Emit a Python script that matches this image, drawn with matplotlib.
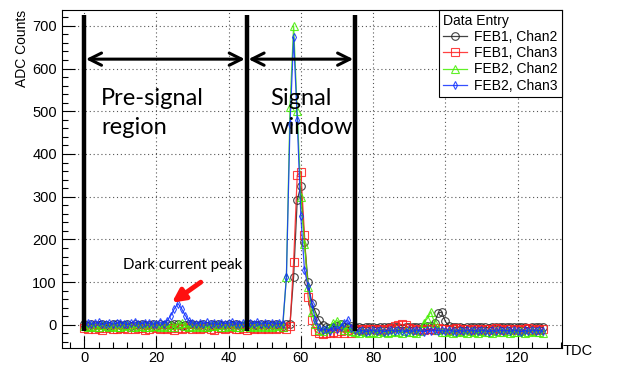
import numpy as np
import matplotlib
matplotlib.use("Agg")
import matplotlib.pyplot as plt
from matplotlib.ticker import MultipleLocator

plt.rcParams['font.family'] = ['Liberation Sans', 'DejaVu Sans']

tdc = np.arange(128)

feb1_chan2 = [1, -2, 2, 0, -1, 3, 0, -2, 1, 2,
              -1, 0, 2, -2, 1, 0, 3, -1, 0, 1,
              -2, 1, 0, 2, -1, 3, 1, -2, 0, 1,
              2, -1, 0, 1, -2, 2, 0, 1, -1, 0,
              3, -1, 1, 0, -2, 1, 2, 0, -1, 1,
              0, 2, -1, 1, 0, -2, 1, 3, 113, 293,
              324, 195, 100, 52, 31, 12, 0, -6, -8, -5,
              -2, 1, -4, -6, -3, -5, -6, -7, -5, -6,
              -4, -7, -6, -5, -6, -4, -6, -5, -7, -6,
              -5, -6, -4, -6, -5, -2, -3, 5, 28, 30,
              8, -3, -5, -6, -5, -7, -6, -4, -6, -5,
              -6, -5, -7, -6, -4, -5, -6, -5, -6, -4,
              -5, -6, -5, -7, -4, -6, -5, -6]

feb1_chan3 = [-8, -10, -6, -9, -7, -11, -8, -6, -9, -10,
              -7, -8, -10, -6, -9, -8, -7, -11, -9, -6,
              -8, -10, -7, -9, -8, -12, -7, -9, -8, -6,
              -9, -7, -10, -8, -6, -9, -11, -8, -7, -9,
              -8, -6, -10, -9, -7, -12, -8, -9, -7, -10,
              -8, -9, -7, -10, -8, -6, -9, -3, 148, 350,
              358, 211, 66, 12, -15, -20, -22, -18, -20, -16,
              -19, -14, -18, -12, -20, -10, -12, -10, -11, -9,
              -10, -12, -9, -11, -10, -8, -2, 0, 1, -1,
              -8, -10, -11, -9, -12, -10, -9, -11, -8, -10,
              -9, -11, -10, -8, -12, -9, -10, -11, -9, -10,
              -11, -9, -10, -12, -8, -10, -11, -9, -10, -12,
              -9, -11, -10, -8, -11, -10, -12, -9]

feb2_chan2 = [-3, -5, -2, -4, -6, -1, -3, -5, -2, -4,
              -5, -3, -1, -4, -6, -2, -3, -5, -4, -2,
              -3, -6, -2, -4, -1, -5, 2, 4, -3, -4,
              -2, -5, -3, -4, -6, -2, -3, -1, -5, -4,
              -3, -2, -5, -4, -1, -3, -6, -2, -4, -3,
              -5, -2, -4, -3, -1, -4, 112, 510, 700, 500,
              300, 190, 88, 30, 2, -12, -15, -10, -8, 5,
              10, 3, -12, -8, -14, -16, -18, -15, -17, -19,
              -16, -18, -15, -17, -19, -16, -14, -17, -18, -15,
              -17, -16, -18, -14, 5, 15, 31, 5, -12, -16,
              -17, -15, -18, -16, -14, -17, -19, -15, -16, -18,
              -15, -17, -16, -18, -14, -16, -17, -15, -18, -16,
              -17, -15, -18, -16, -14, -17, -16, -18]

feb2_chan3 = [3, 5, 2, 4, 6, 1, 3, 5, 2, 4,
              5, 3, 1, 4, 6, 2, 3, 5, 4, 2,
              3, 6, 2, 10, 22, 38, 50, 38, 22, 10,
              4, 2, 5, 3, 6, 2, 4, 1, 5, 3,
              4, 6, 2, 3, 5, 1, 4, 3, 6, 2,
              4, 3, 5, 2, 4, 3, 111, 470, 673, 480,
              254, 129, 90, 50, 12, -8, -12, -10, -14, -6,
              -10, -4, 5, 12, -8, -12, -15, -13, -16, -14,
              -12, -15, -13, -16, -14, -12, -15, -13, -14, -16,
              -13, -15, -12, -14, -16, -13, -15, -12, -14, -13,
              -15, -12, -14, -16, -13, -15, -12, -14, -13, -15,
              -12, -14, -16, -13, -15, -12, -14, -13, -15, -12,
              -14, -16, -13, -15, -12, -14, -13, -15]

labels = ["FEB1, Chan2", "FEB1, Chan3", "FEB2, Chan2", "FEB2, Chan3"]
colors = ["#222222", "#ff2020", "#44ee00", "#1030ff"]
markers = ["o", "s", "^", "d"]
msizes = [5.5, 5.5, 6, 4]
series = [feb1_chan2, feb1_chan3, feb2_chan2, feb2_chan3]

fig = plt.figure(figsize=(6.23, 3.65), dpi=100)
ax = fig.add_axes([0.099, 0.0466, 0.8026, 0.926])

for y, c, m, s, lab in zip(series, colors, markers, msizes, labels):
    ax.plot(tdc, y, color=c, marker=m, markersize=s, markerfacecolor='none',
            markeredgecolor=c, markeredgewidth=0.8, linewidth=0.9, alpha=0.85,
            label=lab)

ax.set_xlim(-6.2, 132.2)
ax.set_ylim(-54, 737)

ax.xaxis.set_major_locator(MultipleLocator(20))
ax.xaxis.set_minor_locator(MultipleLocator(4))
ax.yaxis.set_major_locator(MultipleLocator(100))
ax.yaxis.set_minor_locator(MultipleLocator(20))
ax.tick_params(which='both', direction='in', top=False, right=False, labelsize=10.5)
ax.tick_params(axis='x', pad=2.5)
ax.tick_params(which='major', length=9, width=0.8)
ax.tick_params(which='minor', length=4.5, width=0.8)
ax.grid(True, which='major', linestyle=(0, (1, 2.5)), color='#555555', linewidth=0.8)
for sp in ax.spines.values():
    sp.set_linewidth(0.8)

ax.set_ylabel("ADC Counts", fontsize=10, loc='top')
ax.yaxis.set_label_coords(-0.066, 1.0)
ax.set_xlabel("TDC", fontsize=10.5, loc='right')
ax.xaxis.set_label_coords(1.062, 0.012)

# region boundaries
for xv in [0, 45, 75]:
    ax.plot([xv, xv], [-15, 725], color='black', linewidth=3.2, solid_capstyle='butt', zorder=5)

arrow_kw = dict(arrowstyle='<->', color='black', lw=2.2, mutation_scale=22, shrinkA=0, shrinkB=0)
ax.annotate("", xy=(0.5, 622), xytext=(44.5, 622), arrowprops=arrow_kw, zorder=6)
ax.annotate("", xy=(45.5, 622), xytext=(74.5, 622), arrowprops=arrow_kw, zorder=6)

ax.text(4.7, 496, "Pre-signal\nregion", fontsize=17, family=['Lato', 'DejaVu Sans'],
        va='center', ha='left', linespacing=1.45, zorder=7)
ax.text(51.5, 496, "Signal\nwindow", fontsize=17, family=['Lato', 'DejaVu Sans'],
        va='center', ha='left', linespacing=1.45, zorder=7)
ax.text(10.8, 140, "Dark current peak", fontsize=10.8, family=['Lato', 'DejaVu Sans'],
        va='center', ha='left', zorder=7)
ax.annotate("", xy=(24.3, 52), xytext=(32.3, 100),
            arrowprops=dict(arrowstyle='-|>', color='#ff1010', lw=3.5, mutation_scale=19,
                            shrinkA=0, shrinkB=0), zorder=7)

leg = ax.legend(loc='upper right', bbox_to_anchor=(1.0, 1.0), borderaxespad=0,
                title="Data Entry", fontsize=10, title_fontsize=10, fancybox=False,
                framealpha=1, edgecolor='black', handlelength=1.7, handletextpad=0.5,
                labelspacing=0.15, borderpad=0.3, alignment='left')
leg.get_frame().set_linewidth(0.8)

fig.savefig("out.png", dpi=100)
